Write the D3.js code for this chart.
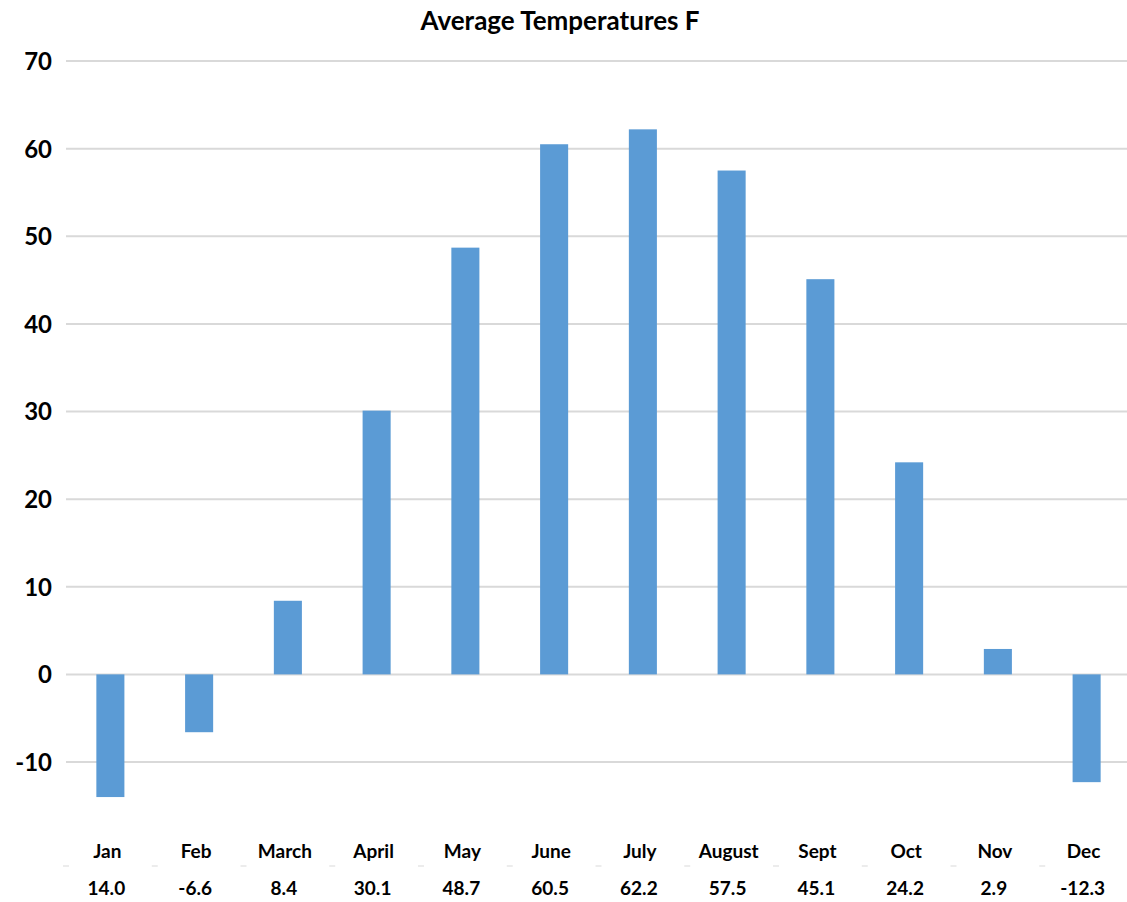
<html>
<head>
<meta charset="utf-8">
<style>
  body { margin: 0; background: #fff; }
  text { font-family: Lato, "Open Sans", sans-serif; font-weight: bold; fill: #000; }
</style>
</head>
<body>
<svg id="chart"></svg>
<script src="https://d3js.org/d3.v7.min.js"></script>
<script>
// chart values
var months = ["Jan","Feb","March","April","May","June","July","August","Sept","Oct","Nov","Dec"];
var temps = [-14.0,-6.6,8.4,30.1,48.7,60.5,62.2,57.5,45.1,24.2,2.9,-12.3];
var valueLabels = ["14.0","-6.6","8.4","30.1","48.7","60.5","62.2","57.5","45.1","24.2","2.9","-12.3"];
var yTicks = [-10,0,10,20,30,40,50,60,70];
var title = "Average Temperatures F";

var screen = {width:1127, height:902};

var svg = d3.select("#chart")
    .attr("width",screen.width)
    .attr("height",screen.height)

var xScale = d3.scaleBand()
    .domain(months)
    .range([66,1131])
    .paddingInner(0.684)
    .paddingOuter(0.342)

var yScale = d3.scaleLinear()
    .domain([-10,70])
    .range([762,61])

//title
svg.append("text")
    .attr("x",560)
    .attr("y",30)
    .attr("text-anchor","middle")
    .style("font-size","26px")
    .text(title)

//gridlines
svg.append("g")
    .selectAll("line")
    .data(yTicks)
    .enter()
    .append("line")
    .attr("x1",66)
    .attr("x2",screen.width)
    .attr("y1",function(d){return yScale(d);})
    .attr("y2",function(d){return yScale(d);})
    .attr("stroke","#d9d9d9")
    .attr("stroke-width",2)

//y axis labels (plain hyphen minus like the original)
var yAxis = d3.axisLeft(yScale)
    .tickValues(yTicks)
    .tickFormat(function(d){return String(d);})
    .tickSize(0)
    .tickPadding(0)

svg.append("g")
    .attr("transform","translate(52,0)")
    .call(yAxis)
    .call(function(g){ g.select(".domain").remove(); })
    .selectAll("text")
    .attr("dy","0.35em")
    .style("font-size","24px")
    .style("font-family","Lato, 'Open Sans', sans-serif")

//bars
svg.append("g")
    .selectAll("rect")
    .data(temps)
    .enter()
    .append("rect")
    .attr("x",function(d,i){return xScale(months[i]);})
    .attr("y",function(d){return yScale(Math.max(0,d));})
    .attr("width",xScale.bandwidth())
    .attr("height",function(d){return Math.abs(yScale(d)-yScale(0));})
    .attr("fill","#5b9bd5")

//faint tick dashes between categories
svg.append("g")
    .selectAll("line")
    .data(months)
    .enter()
    .append("line")
    .attr("x1",function(d){return xScale(d)-xScale.step()*0.342-3;})
    .attr("x2",function(d){return xScale(d)-xScale.step()*0.342+3;})
    .attr("y1",866)
    .attr("y2",866)
    .attr("stroke","#ececec")
    .attr("stroke-width",2)

//month names
svg.append("g")
    .selectAll("text")
    .data(months)
    .enter()
    .append("text")
    .attr("x",function(d){return xScale(d)+xScale.bandwidth()/2-3;})
    .attr("y",858)
    .attr("text-anchor","middle")
    .style("font-size","19px")
    .text(function(d){return d;})

//value row
svg.append("g")
    .selectAll("text")
    .data(valueLabels)
    .enter()
    .append("text")
    .attr("x",function(d,i){return xScale(months[i])+xScale.bandwidth()/2-4;})
    .attr("y",895)
    .attr("text-anchor","middle")
    .style("font-size","19px")
    .text(function(d){return d;})
</script>
</body>
</html>
